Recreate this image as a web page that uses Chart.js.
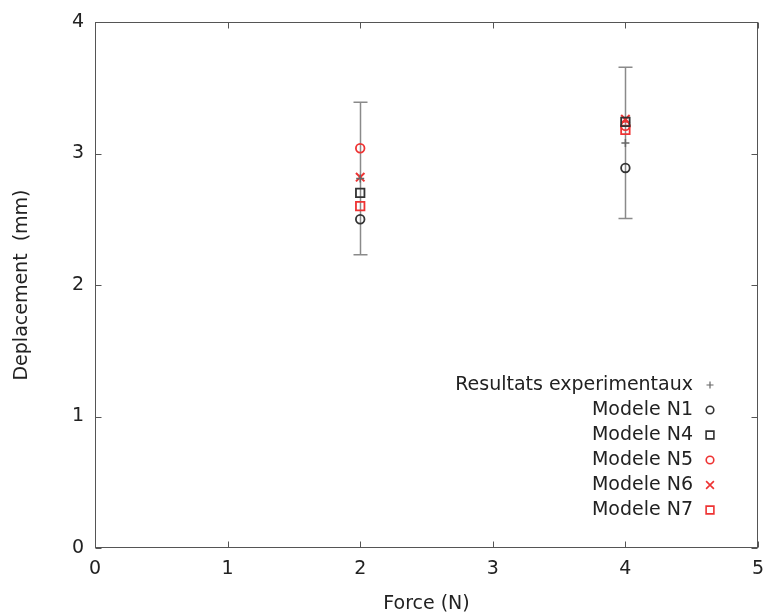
<!DOCTYPE html>
<html>
<head>
<meta charset="utf-8">
<script src="https://cdn.jsdelivr.net/npm/chart.js@4.4.0/dist/chart.umd.min.js"></script>
<style>
html,body{margin:0;padding:0;background:#fff;}
canvas{display:block;}
</style>
</head>
<body>
<canvas id="c" width="766" height="615"></canvas>
<script>
// ---- data ----
const forces = [2, 4];
const xTicks = [0, 1, 2, 3, 4, 5];
const yTicks = [0, 1, 2, 3, 4];
const expMean = [2.81, 3.08];
const expErr = [0.58, 0.575];
const modelN1 = [2.50, 2.89];
const modelN4 = [2.70, 3.24];
const modelN5 = [3.04, 3.21];
const modelN6 = [2.82, 3.26];
const modelN7 = [2.60, 3.18];
const seriesNames = ['Resultats experimentaux', 'Modele N1', 'Modele N4', 'Modele N5', 'Modele N6', 'Modele N7'];

const BLACK = '#333333';
const RED = '#ee3333';
const FONT = 'DejaVu Sans';

function pts(vals){ return forces.map((f,i)=>({x:f, y:vals[i]})); }

const datasets = [
  {label: seriesNames[0], data: pts(expMean), pointStyle:'cross', pointRadius:4, borderColor:'#666666', backgroundColor:'#666666', pointBorderWidth:1.5, errs: expErr},
  {label: seriesNames[1], data: pts(modelN1), pointStyle:'circle', pointRadius:4.3, borderColor:BLACK, backgroundColor:'rgba(0,0,0,0)', pointBorderWidth:1.8},
  {label: seriesNames[2], data: pts(modelN4), pointStyle:'rect', pointRadius:6, borderColor:BLACK, backgroundColor:'rgba(0,0,0,0)', pointBorderWidth:1.8},
  {label: seriesNames[3], data: pts(modelN5), pointStyle:'circle', pointRadius:4.3, borderColor:RED, backgroundColor:'rgba(0,0,0,0)', pointBorderWidth:1.8},
  {label: seriesNames[4], data: pts(modelN6), pointStyle:'crossRot', pointRadius:6, borderColor:RED, backgroundColor:RED, pointBorderWidth:2},
  {label: seriesNames[5], data: pts(modelN7), pointStyle:'rect', pointRadius:6, borderColor:RED, backgroundColor:'rgba(0,0,0,0)', pointBorderWidth:1.8}
];

function drawMarker(ctx, style, r, x, y, color, lw){
  ctx.save();
  ctx.strokeStyle = color; ctx.lineWidth = lw;
  ctx.beginPath();
  if (style === 'circle') { ctx.arc(x, y, r, 0, Math.PI*2); }
  else if (style === 'rect') { const s = r*Math.SQRT1_2; ctx.rect(x-s, y-s, 2*s, 2*s); }
  else if (style === 'cross') { ctx.moveTo(x-r,y); ctx.lineTo(x+r,y); ctx.moveTo(x,y-r); ctx.lineTo(x,y+r); }
  else if (style === 'crossRot') { const s = r*Math.SQRT1_2; ctx.moveTo(x-s,y-s); ctx.lineTo(x+s,y+s); ctx.moveTo(x-s,y+s); ctx.lineTo(x+s,y-s); }
  ctx.stroke();
  ctx.restore();
}

const gnuplotDeco = {
  id: 'gnuplotDeco',
  beforeDatasetsDraw(chart){
    const ctx = chart.ctx, xs = chart.scales.x, ys = chart.scales.y;
    const ds = chart.data.datasets[0];
    ctx.save();
    ctx.strokeStyle = '#8a8a8a';
    ctx.lineWidth = 1.5;
    ds.data.forEach((p, i) => {
      const x = Math.round(xs.getPixelForValue(p.x)) + 0.5;
      const yT = ys.getPixelForValue(p.y + ds.errs[i]);
      const yB = ys.getPixelForValue(p.y - ds.errs[i]);
      ctx.beginPath();
      ctx.moveTo(x, yT); ctx.lineTo(x, yB);
      ctx.moveTo(x-7, yT); ctx.lineTo(x+7, yT);
      ctx.moveTo(x-7, yB); ctx.lineTo(x+7, yB);
      ctx.stroke();
    });
    ctx.restore();
  },
  afterDraw(chart){
    const ctx = chart.ctx, a = chart.chartArea, xs = chart.scales.x, ys = chart.scales.y;
    ctx.save();
    // frame
    ctx.strokeStyle = '#555555';
    ctx.lineWidth = 1;
    const L = Math.round(a.left)+0.5, R = Math.round(a.right)-0.5, T = Math.round(a.top)+0.5, B = Math.round(a.bottom)-0.5;
    ctx.strokeRect(L, T, R-L, B-T);
    // inward ticks, mirrored
    ctx.beginPath();
    xTicks.forEach(v => {
      const x = Math.round(xs.getPixelForValue(v)) + 0.5;
      ctx.moveTo(x, B); ctx.lineTo(x, B-6);
      ctx.moveTo(x, T); ctx.lineTo(x, T+6);
    });
    yTicks.forEach(v => {
      const y = Math.round(ys.getPixelForValue(v)) + 0.5;
      ctx.moveTo(L, y); ctx.lineTo(L+6, y);
      ctx.moveTo(R, y); ctx.lineTo(R-6, y);
    });
    ctx.stroke();
    // legend (inside, bottom-right)
    ctx.font = '19px "' + FONT + '"';
    ctx.fillStyle = '#222222';
    ctx.textAlign = 'right';
    ctx.textBaseline = 'middle';
    const tx = a.right - 65, mx = a.right - 48;
    chart.data.datasets.forEach((d, i) => {
      const y = a.bottom - 163 + i*25;
      ctx.fillText(d.label, tx, y);
      drawMarker(ctx, d.pointStyle, d.pointStyle === 'circle' ? 3.8 : (d.pointStyle === 'cross' ? 3.5 : 5.5), mx, y, d.borderColor, d.pointStyle==='cross'?1.2:1.6);
    });
    ctx.restore();
  }
};

new Chart(document.getElementById('c'), {
  type: 'scatter',
  data: { datasets },
  options: {
    responsive: false,
    devicePixelRatio: 1,
    animation: false,
    layout: { padding: { top: 22, right: 8, left: 0, bottom: 0 } },
    plugins: { legend: { display: false }, tooltip: { enabled: false } },
    scales: {
      x: {
        type: 'linear', min: 0, max: 5,
        afterBuildTicks: s => { s.ticks = xTicks.map(v => ({value: v})); },
        afterFit: s => { s.height = 67; s.paddingRight = 0; s.paddingLeft = 0; },
        grid: { display: false, drawTicks: false },
        border: { display: false },
        ticks: { padding: 10, color: '#222222', font: { family: FONT, size: 19 }, maxRotation: 0 },
        title: { display: true, text: 'Force (N)', color: '#222222', font: { family: FONT, size: 19 }, padding: { top: 0, bottom: 0 } }
      },
      y: {
        type: 'linear', min: 0, max: 4,
        afterBuildTicks: s => { s.ticks = yTicks.map(v => ({value: v})); },
        afterFit: s => { s.width = 95; s.paddingTop = 0; s.paddingBottom = 0; },
        grid: { display: false, drawTicks: false },
        border: { display: false },
        ticks: { padding: 11, color: '#222222', font: { family: FONT, size: 19 } },
        title: { display: true, text: 'Deplacement  (mm)', color: '#222222', font: { family: FONT, size: 19 }, padding: { top: 11, bottom: 0 } }
      }
    }
  },
  plugins: [gnuplotDeco]
});
</script>
</body>
</html>
